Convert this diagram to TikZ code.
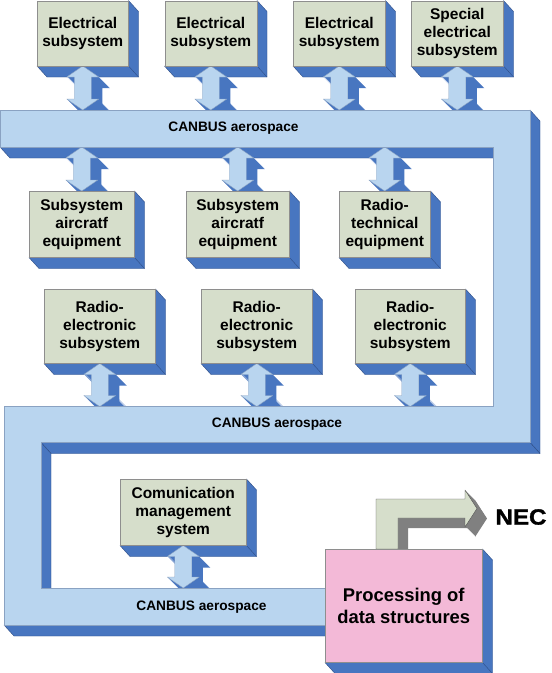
\documentclass[tikz,border=0pt]{standalone}
\usepackage{fontspec}
\setmainfont{Liberation Sans}
\newfontfamily\heavyfont[BoldFeatures={FakeBold=1.5,FakeStretch=1.1}]{Liberation Sans}
\usetikzlibrary{calc}
\pgfdeclarelayer{bg}
\pgfdeclarelayer{ext}
\pgfdeclarelayer{arr}
\pgfsetlayers{bg,ext,arr,main}
\definecolor{sage}{HTML}{D6DECB}
\definecolor{extblue}{HTML}{4876C0}
\definecolor{extline}{HTML}{2F4E86}
\definecolor{buslight}{HTML}{B9D5EF}
\definecolor{busline}{HTML}{8AA2C2}
\definecolor{boxline}{HTML}{8E8E8E}
\definecolor{pinkbox}{HTML}{F3B9D7}
\definecolor{necgray}{HTML}{808080}
\definecolor{necline}{HTML}{505050}
\tikzset{
  unitbox/.style={draw=boxline, line width=0.5pt, fill=sage, anchor=north west,
    inner sep=0pt, align=center, font=\fontsize{15.5}{18}\selectfont\bfseries},
  extface/.style={fill=extblue, draw=extline, line width=0.4pt, line join=round},
  buslabel/.style={font=\fontsize{13.7}{16}\selectfont\bfseries},
}
\newcommand\mkbox[6]{%
  \node[unitbox, minimum width=#4pt, minimum height=#5pt] (#1) at (#2,#3) {#6};}
\newcommand\extr[1]{%
  \begin{pgfonlayer}{ext}
    \filldraw[extface] (#1.north east) -- ([shift={(10,11)}]#1.north east)
      -- ([shift={(10,11)}]#1.south east) -- ([shift={(10,11)}]#1.south west)
      -- (#1.south west) -- (#1.south east) -- cycle;
    \draw[extline, line width=0.4pt] (#1.south east) -- ([shift={(10,11)}]#1.south east);
  \end{pgfonlayer}}
\newcommand\darr[2]{%
  \begin{pgfonlayer}{arr}
    \foreach \i in {1,...,11}{%
      \path[fill=extblue, transform canvas={shift={(\i,\i)}}] let \p1=(#1), \p2=(#2) in
        (\x1,\y1) -- (\x1+16pt,\y1-11pt) -- (\x1+8.5pt,\y1-11pt) -- (\x1+8.5pt,\y2+11pt)
        -- (\x1+16pt,\y2+11pt) -- (\x1,\y2) -- (\x1-16pt,\y2+11pt) -- (\x1-8.5pt,\y2+11pt)
        -- (\x1-8.5pt,\y1-11pt) -- (\x1-16pt,\y1-11pt) -- cycle;}
    \path[fill=buslight, draw=busline, line width=0.4pt, line join=round] let \p1=(#1), \p2=(#2) in
        (\x1,\y1) -- (\x1+16pt,\y1-11pt) -- (\x1+8.5pt,\y1-11pt) -- (\x1+8.5pt,\y2+11pt)
        -- (\x1+16pt,\y2+11pt) -- (\x1,\y2) -- (\x1-16pt,\y2+11pt) -- (\x1-8.5pt,\y2+11pt)
        -- (\x1-8.5pt,\y1-11pt) -- (\x1-16pt,\y1-11pt) -- cycle;
  \end{pgfonlayer}}
\begin{document}
\begin{tikzpicture}[x=1pt,y=-1pt]
\useasboundingbox (0,0) rectangle (552,673);
\begin{pgfonlayer}{bg}
  \fill[white] (0,0) rectangle (552,673);
\end{pgfonlayer}
% bus coordinates
\coordinate (bus1top) at (0,110);
\coordinate (bus1bot) at (0,147);
\coordinate (bus2top) at (0,406.5);
\coordinate (bus3top) at (0,588);
% bus extrusion faces
\begin{pgfonlayer}{ext}
  \filldraw[extface] (0,147) -- (493,147) -- (503,158) -- (10,158) -- cycle;
  \filldraw[extface] (530,110) -- (540,121) -- (540,453.5) -- (530,442.5) -- cycle;
  \filldraw[extface] (41,442.5) -- (530,442.5) -- (540,453.5) -- (51,453.5) -- cycle;
  \filldraw[extface] (41,442.5) -- (51,453.5) -- (51,599) -- (41,588) -- cycle;
  \filldraw[extface] (4,625) -- (326,625) -- (336,636) -- (14,636) -- cycle;
\end{pgfonlayer}
% bus front
\filldraw[fill=buslight, draw=busline, line width=0.5pt, line join=miter]
  (0,110) -- (530,110) -- (530,442.5) -- (41,442.5) -- (41,588) -- (326,588)
  -- (326,625) -- (4,625) -- (4,406.5) -- (493,406.5) -- (493,147) -- (0,147) -- cycle;
\node[buslabel] (l1) at (233.5,128.5) {CANBUS aerospace};
\node[buslabel] (l2) at (277,424.5) {CANBUS aerospace};
\node[buslabel] (l3) at (201.5,607) {CANBUS aerospace};
% boxes
\mkbox{e1}{37}{0.5}{91}{65}{Electrical\\subsystem}
\mkbox{e2}{164.5}{0.5}{92}{65}{Electrical\\subsystem}
\mkbox{e3}{293}{0.5}{92}{65}{Electrical\\subsystem}
\mkbox{e4}{411}{0.5}{92}{65}{Special\\electrical\\subsystem}
\mkbox{s1}{29}{191}{105}{66}{Subsystem\\aircratf\\equipment}
\mkbox{s2}{186}{191}{103}{66}{Subsystem\\aircratf\\equipment}
\mkbox{s3}{339}{191}{91}{66}{Radio-\\technical\\equipment}
\mkbox{r1}{44}{289}{111}{74}{Radio-\\electronic\\subsystem}
\mkbox{r2}{201}{289}{111}{74}{Radio-\\electronic\\subsystem}
\mkbox{r3}{355}{289}{110}{74}{Radio-\\electronic\\subsystem}
\mkbox{cm}{120}{479}{126}{66}{Comunication\\management\\system}
\node[draw=boxline, line width=0.5pt, fill=pinkbox, anchor=north west, minimum width=157pt,
  minimum height=113pt, inner sep=0pt, align=center,
  font=\fontsize{18.4}{22}\selectfont\bfseries] (pk) at (325,549) {Processing of\\data structures};
\foreach \n in {e1,e2,e3,e4,s1,s2,s3,r1,r2,r3,cm,pk}{\extr{\n}}
% double arrows
\darr{e1.south}{e1.south |- bus1top}
\darr{e2.south}{e2.south |- bus1top}
\darr{e3.south}{e3.south |- bus1top}
\darr{e4.south}{e4.south |- bus1top}
\darr{s1.north |- bus1bot}{s1.north}
\darr{s2.north |- bus1bot}{s2.north}
\darr{s3.north |- bus1bot}{s3.north}
\darr{r1.south}{r1.south |- bus2top}
\darr{r2.south}{r2.south |- bus2top}
\darr{r3.south}{r3.south |- bus2top}
\darr{cm.south}{cm.south |- bus3top}
% NEC arrow
\begin{pgfonlayer}{arr}
  \foreach \i in {1,...,10}{%
    \fill[necgray, shift={(\i,\i)}] (376,549) -- (376,499) -- (465,499) -- (465,490)
      -- (477,508.5) -- (465,527) -- (465,518) -- (398,518) -- (398,549) -- cycle;}
  \filldraw[fill=sage, draw=necline, line width=0.4pt, line join=round]
    (376,549) -- (376,499) -- (465,499) -- (465,490)
    -- (477,508.5) -- (465,527) -- (465,518) -- (398,518) -- (398,549) -- cycle;
\end{pgfonlayer}
\node[font={\heavyfont\fontsize{22}{26}\selectfont\bfseries}] (nec) at (521,517) {NEC};
\end{tikzpicture}
\end{document}
